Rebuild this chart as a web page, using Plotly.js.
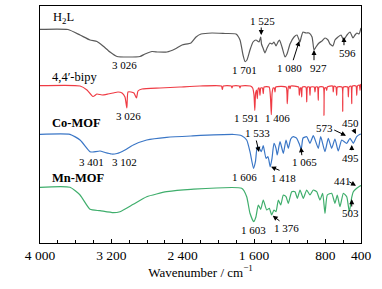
<!DOCTYPE html>
<html><head><meta charset="utf-8">
<script src="https://cdn.plot.ly/plotly-3.0.1.min.js"></script>
<style>html,body{margin:0;padding:0;background:#fff}#chart{width:382px;height:289px}</style>
</head><body><div id="chart"></div>
<script>
// FT-IR spectra (stacked, arbitrary transmittance units)
const h2lWn = [4000,3686,3551,3439,3361,3293,3215,3136,3013,2879,2822,2744,2677,2576,2486,2407,2307,2250,2194,2071,1925,1802,1757,1723,1701,1679,1645,1611,1578,1544,1525,1516,1499,1477,1454,1421,1398,1376,1353,1331,1314,1286,1252,1230,1196,1151,1118,1084,1073,1050,1017,983,949,927,905,871,837,804,770,748,714,692,658,624,596,579,557,523,490,467,445,422,400];
const h2lT  = [213.7,213.5,208,203,201.5,197,191,186.5,186,186.5,189,191.5,191,191,194,198,200,206,209,210,209.5,209,203,188,181.5,183,193,201,203,201,206,199,195,190,195,200,199,201,197,201,203,196,186,189,199,206,208,201,205,211,210,210,206,193,196,200,202,205,203,199,197,203,206,208,203,205,208,211,205,208,210,209,215];

const bipyWn = [4000,3551,3473,3406,3361,3305,3237,3181,3125,3080,3047,3026,3013,2979,2946,2918,2901,2856,2654,2430,2206,1965,1955,1945,1855,1847,1839,1765,1757,1749,1640,1615,1600,1591,1582,1572,1563,1554,1542,1533,1524,1505,1496,1487,1430,1415,1406,1397,1385,1372,1364,1356,1240,1227,1215,1205,1196,1187,1100,1092,1080,1072,1065,1057,1018,1009,1000,980,972,964,924,916,908,888,879,871,823,815,807,792,785,778,719,711,703,681,673,665,613,605,597,550,542,534,512,504,496,456,448,440,418,411,405,400];
const bipyT  = [157.3,157,153,146.5,149,148,149,150,151,150,146,135,151,151,150,145,152,154,155,156,157,157,153.5,157,157,155,157,157,155,157,157,155,148,132.7,150,153,144.3,154,155,147.7,155,155,149.3,156,156,145,128.3,150,155,155,151,156,156,139.3,156,157,154.3,157,156,147.7,155,155,146,156,156,141,156,156,147.7,156,156,151,156,156,142.7,156,156,127.7,155,155,152.7,156,157,151,157,156,147.7,156,156,131.7,156,156,146,156,157,139.3,157,157,147.7,157,158,152.7,158,159];

const coWn = [4000,3664,3551,3439,3406,3327,3271,3196,3136,3103,3047,2954,2803,2579,2307,1825,1738,1682,1645,1606,1584,1563,1540,1518,1496,1465,1443,1418,1398,1376,1353,1339,1308,1271,1241,1215,1188,1159,1121,1095,1070,1050,1009,972,935,879,852,804,767,729,692,655,616,560,523,486,448,411,400];
const coT  = [108.7,108.7,103,91.3,91,92,90.5,89,89.5,90.5,93,98,103,105.7,107,108.5,107.3,103,91.3,74.7,81.3,96.3,94.7,91.3,97.3,84.7,86.3,76.3,84.7,99.7,94.7,88,101.3,89.7,103,94.7,104,106.3,104.7,99.7,94,105,106.3,99.7,107.3,94.7,106.3,91.3,104.7,94.7,104,92,103,99.7,104.7,99.7,106.3,108.7,109];

const mnWn = [4000,3664,3551,3439,3327,3178,3103,2954,2803,2579,2307,1738,1682,1645,1603,1578,1552,1525,1496,1458,1428,1402,1376,1353,1327,1300,1271,1241,1215,1177,1140,1114,1084,1047,1009,972,935,897,860,830,804,778,729,692,666,636,598,560,531,504,486,448,411,400];
const mnT  = [55.7,55.7,48,33.7,32.3,30.3,31.3,38.7,46.3,51.3,53.7,54.7,46.3,29.7,21.3,26.3,38,33.7,43,33,34.7,28,33,31.3,43,38,48,46.3,39.7,51.3,51.3,44.7,53,44.7,53,48,53,51.3,43,49.7,29.7,48,49.7,39.7,48,36.3,49.7,46.3,31.3,45.7,51.3,54.7,57,57.5];

const seriesNames = ['H2L','4,4′-bipy','Co-MOF','Mn-MOF'];
const tickVals = [4000,3200,2400,1600,800,400];
const tickText = ['4 000','3 200','2 400','1 600','800','400'];

// peak labels: [text, x, y]
const peakText = [
  ['3 026',3047,178],['1 701',1712,173],['1 525',1510,222],['1 080',1207,175],['927',882,175],['596',557,190],
  ['3 026',3013,127],['1 591',1679,125],['1 406',1331,125],
  ['3 401',3428,81.3],['3 102',3058,81.3],['1 533',1559,109.7],['573',815,115.3],['450',523,120],['1 065',1039,81.3],['495',523,85.3],['1 606',1712,65.7],['1 418',1264,64.7],
  ['441',613,62],['503',523,30],['1 603',1611,13],['1 376',1230,14.7]
];
// arrows: [tailX, tailY, tipX, tipY]
const peakArrows = [
  [1519,217,1519,208],[1166,181.3,1092,202],[927,181.3,927,193],[591,196.3,591,206],
  [1578,104,1544,91],[717,113.7,568,107.3],[493,115,456,109],[1062,86.3,1073,95.7],[504,91.3,504,98],[1297,72,1409,76.3],
  [549,62,456,57.3],[504,35,504,43.7],[1297,21,1390,27.3]
];
// series name labels: [text, x, y, bold]
const nameLabels = [
  ['H<sub>2</sub>L',3877,225,false],['4,4′-bipy',3888,166,false],['Co-MOF',3888,120,true],['Mn-MOF',3888,65,true]
];

const colors = ['#5a5a5a','#ef3b44','#3a76c6','#3fae6c'];
const xs = [h2lWn,bipyWn,coWn,mnWn], ys = [h2lT,bipyT,coT,mnT];
const traces = xs.map((x,i)=>({x:x,y:ys[i],type:'scatter',mode:'lines',name:seriesNames[i],
  line:{color:colors[i],width:1.2,shape:'spline',smoothing:0.5},hoverinfo:'skip'}));

const serif = 'Liberation Serif, Times New Roman, serif';
const ann = [];
peakText.forEach(p=>ann.push({x:p[1],y:p[2],xref:'x',yref:'y',text:p[0],showarrow:false,
  font:{family:serif,size:11,color:'#000'}}));
peakArrows.forEach(a=>ann.push({x:a[2],y:a[3],ax:a[0],ay:a[1],xref:'x',yref:'y',axref:'x',ayref:'y',text:'',
  showarrow:true,arrowhead:2,arrowsize:1,arrowwidth:1,arrowcolor:'#000',standoff:0,startstandoff:0}));
nameLabels.forEach(n=>ann.push({x:n[1],y:n[2],xref:'x',yref:'y',text:n[3]?'<b>'+n[0]+'</b>':n[0],showarrow:false,
  xanchor:'left',font:{family:serif,size:12.5,color:'#000'}}));

const layout = {
  width:382,height:289,margin:{l:40,r:21,t:6,b:46},
  paper_bgcolor:'#fff',plot_bgcolor:'#fff',showlegend:false,
  xaxis:{range:[4000,400],tickmode:'array',tickvals:tickVals,ticktext:tickText,ticks:'inside',ticklen:4,tickwidth:1,
    tickcolor:'#000',showline:true,linecolor:'#000',linewidth:1.2,mirror:true,showgrid:false,zeroline:false,
    tickfont:{family:serif,size:13.5,color:'#000'},
    minor:{tickmode:'linear',tick0:400,dtick:200,ticks:'inside',ticklen:3,tickcolor:'#000',showgrid:false},
    title:{text:'Wavenumber / cm<sup>−1</sup>',font:{family:serif,size:13,color:'#000'},standoff:1}},
  yaxis:{range:[0,237],showticklabels:false,ticks:'',showline:true,linecolor:'#000',linewidth:1.2,mirror:true,
    showgrid:false,zeroline:false},
  annotations:ann
};
Plotly.newPlot('chart',traces,layout,{staticPlot:true,displayModeBar:false});
</script></body></html>
